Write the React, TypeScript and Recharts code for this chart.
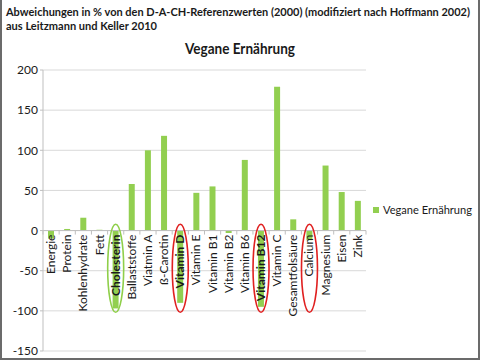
import React from 'react';
import {
  BarChart,
  Bar,
  XAxis,
  YAxis,
  CartesianGrid,
  ReferenceLine,
  ReferenceDot
} from 'recharts';

const categories = [
  'Energie', 'Protein', 'Kohlenhydrate', 'Fett', 'Cholesterin', 'Ballaststoffe',
  'Viatmin A', 'ß-Carotin', 'Vitamin D', 'Vitamin E', 'Vitamin B1', 'Vitamin B2',
  'Vitamin B6', 'Vitamin B12', 'Vitamin C', 'Gesamtfolsäure', 'Calcium',
  'Magnesium', 'Eisen', 'Zink'
];
const veganValues = [-10, 2, 16, 1, -97, 58, 100, 118, -90, 47, 55, -3, 88, -95, 179, 14, -12, 81, 48, 37];
const yTicks = [-150, -100, -50, 0, 50, 100, 150, 200];

// annotations drawn around some categories
const greenMarked = ['Cholesterin'];
const redMarked = ['Vitamin D', 'Vitamin B12', 'Calcium'];
const boldLabels = ['Cholesterin', 'Vitamin D', 'Vitamin B12'];

const data = categories.map((name, i) => ({ name, vegan: veganValues[i] }));

const W = 480;
const H = 360;
const margin = { top: 70, right: 114, bottom: 9, left: 0 };
const yAxisWidth = 43;
const bandWidth = (W - margin.left - margin.right - yAxisWidth) / categories.length;
const font = 'Lato, "Open Sans", sans-serif';
const barColor = '#92cf50';
const textColor = '#1a1a1a';

const AxisLabel = (props: any) => {
  const { cx, cy, name, last } = props;
  const bold = boldLabels.includes(name);
  return (
    <g>
      <line x1={cx - bandWidth / 2} x2={cx - bandWidth / 2} y1={cy} y2={cy + 4} stroke="#bfbfbf" />
      {last && <line x1={cx + bandWidth / 2} x2={cx + bandWidth / 2} y1={cy} y2={cy + 4} stroke="#bfbfbf" />}
      <text
        x={cx + 4}
        y={cy + 4}
        transform={`rotate(-90 ${cx + 4} ${cy + 4})`}
        textAnchor="end"
        fontSize={12}
        fontFamily={font}
        fontWeight={bold ? 700 : 400}
        fill={textColor}
      >
        {name}
      </text>
    </g>
  );
};

const Ellipse = (props: any) => {
  const { cx, cy, color } = props;
  return <ellipse cx={cx} cy={cy} rx={8} ry={44} fill="none" stroke={color} strokeWidth={1.6} />;
};

export default function App() {
  return (
    <div style={{ position: 'relative', width: W, height: H, background: '#fff' }}>
      <style>{'body{margin:0}'}</style>
      <div style={{ position: 'absolute', left: 0, top: 0 }}>
        <BarChart width={W} height={H} data={data} margin={margin} barSize={6}>
          <CartesianGrid vertical={false} stroke="#d9d9d9" />
          <XAxis dataKey="name" hide />
          <YAxis
            width={yAxisWidth}
            domain={[-150, 200]}
            ticks={yTicks}
            interval={0}
            stroke="#bfbfbf"
            tickSize={3}
            tick={{ fontSize: 12, fontFamily: font, fill: textColor }}
          />
          <ReferenceLine y={0} stroke="#bfbfbf" />
          <Bar dataKey="vegan" name="Vegane Ernährung" fill={barColor} isAnimationActive={false} />
          {categories.map((c, i) => (
            <ReferenceDot
              key={'l' + c}
              x={c}
              y={0}
              ifOverflow="visible"
              shape={(p: any) => <AxisLabel {...p} name={c} last={i === categories.length - 1} />}
            />
          ))}
          {greenMarked.map((c) => (
            <ReferenceDot key={'g' + c} x={c} y={-47} ifOverflow="visible"
              shape={(p: any) => <Ellipse {...p} color="#8fcf4a" />} />
          ))}
          {redMarked.map((c) => (
            <ReferenceDot key={'r' + c} x={c} y={-47} ifOverflow="visible"
              shape={(p: any) => <Ellipse {...p} color="#e02020" />} />
          ))}
        </BarChart>
      </div>
      <svg width={W} height={H} style={{ position: 'absolute', left: 0, top: 0, pointerEvents: 'none' }}>
        <g fontFamily={font} fill={textColor}>
          <text x={6} y={16} fontSize={10.5} fontWeight={700} textLength={464} lengthAdjust="spacingAndGlyphs">
            Abweichungen in % von den D-A-CH-Referenzwerten (2000) (modifiziert nach Hoffmann 2002)
          </text>
          <text x={6} y={30} fontSize={11} fontWeight={700} textLength={151} lengthAdjust="spacingAndGlyphs">
            aus Leitzmann und Keller 2010
          </text>
          <text x={185} y={54} fontSize={15} fontWeight={700} textLength={110} lengthAdjust="spacingAndGlyphs">
            Vegane Ernährung
          </text>
          <rect x={373} y={207} width={6} height={6} fill={barColor} />
          <text x={383} y={214} fontSize={12} textLength={89} lengthAdjust="spacingAndGlyphs">
            Vegane Ernährung
          </text>
        </g>
        <path d={`M1 0 V${H - 1} H${W - 1} V0`} fill="none" stroke="#6b6b6b" strokeWidth={2} />
      </svg>
    </div>
  );
}
